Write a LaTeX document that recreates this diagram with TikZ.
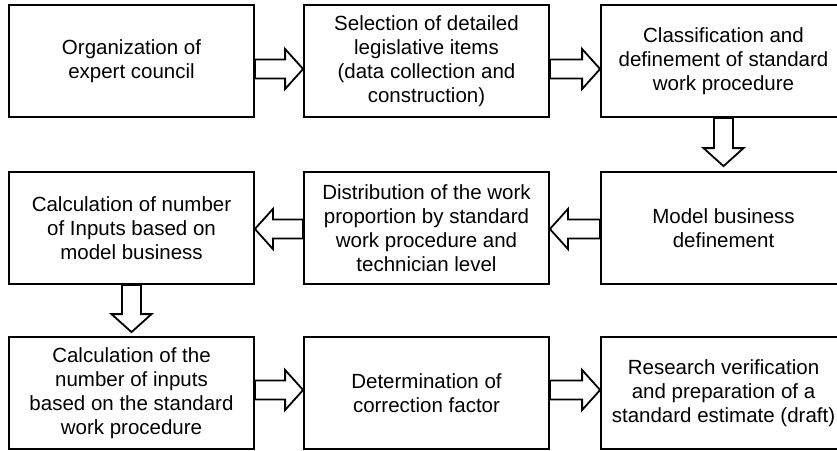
\documentclass[tikz,border=0pt]{standalone}
\usepackage{fontspec}
\setmainfont{Liberation Sans}
\usepackage{tikz}
\usetikzlibrary{calc}

\tikzset{
  box/.style={draw, line width=1.8pt, minimum width=245pt, minimum height=112pt,
    align=center, inner sep=2pt, font=\fontsize{20.5}{24}\selectfont},
  fat/.style={draw, line width=1.8pt, fill=white, to path={
    ($(\tikztostart)!9.5pt!90:(\tikztotarget)$)
    -- ($(\tikztotarget)!18pt!(\tikztostart)!9.5pt!-90:(\tikztostart)$)
    -- ($(\tikztotarget)!18pt!(\tikztostart)!20pt!-90:(\tikztostart)$)
    -- (\tikztotarget)
    -- ($(\tikztotarget)!18pt!(\tikztostart)!20pt!90:(\tikztostart)$)
    -- ($(\tikztotarget)!18pt!(\tikztostart)!9.5pt!90:(\tikztostart)$)
    -- ($(\tikztostart)!9.5pt!-90:(\tikztotarget)$)
    -- cycle}}
}

\begin{document}
\begin{tikzpicture}[x=1pt, y=-1pt]
          \useasboundingbox (0,0) rectangle (837,450);
          % first row
          \node [box] (o1) at (131.5, 61) {Organization of\\expert council};
          \node [box] (o2) at (426.5, 61) {Selection of detailed\\legislative items\\(data collection and\\construction)};
          \node [box] (o3) at (723.5, 61) {Classification and\\definement of standard\\work procedure};
          % second row
          \node [box] (o4) at (131.5, 228) {Calculation of number\\of Inputs based on\\model business};
          \node [box] (o5) at (426.5, 228) {Distribution of the work\\proportion by standard\\work procedure and\\technician level};
          \node [box] (o6) at (723.5, 228) {Model business\\definement};
          % third row
          \node [box] (o7) at (131.5, 393) {Calculation of the\\number of inputs\\based on the standard\\work procedure};
          \node [box] (o8) at (426.5, 393) {Determination of\\correction factor};
          \node [box] (o9) at (723.5, 393) {Research verification\\and preparation of a\\standard estimate (draft)};
          % arrows
          \draw [fat] ([yshift=-8pt]o1.east) to ([yshift=-8pt]o2.west);
          \draw [fat] ([yshift=-8pt]o2.east) to ([yshift=-8pt]o3.west);
          \draw [fat] (o3.south) to ([yshift=5pt]o6.north);
          \draw [fat] ([yshift=-1pt]o6.west) to ([yshift=-1pt]o5.east);
          \draw [fat] ([yshift=-1pt]o5.west) to ([yshift=-1pt]o4.east);
          \draw [fat] (o4.south) to ([yshift=4pt]o7.north);
          \draw [fat] ([yshift=3pt]o7.east) to ([yshift=3pt]o8.west);
          \draw [fat] ([yshift=3pt]o8.east) to ([yshift=3pt]o9.west);
        \end{tikzpicture}
\end{document}
